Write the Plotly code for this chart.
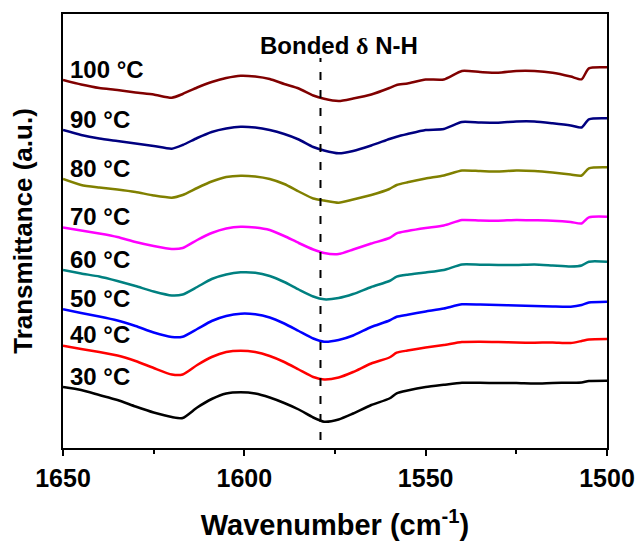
import plotly.graph_objects as go

# Shared wavenumber grid (cm^-1)
wavenumber = [1650, 1645, 1640, 1635, 1630, 1625, 1620, 1617, 1613, 1609,
              1605, 1601, 1597, 1593, 1589, 1585, 1581, 1578, 1574, 1570,
              1565, 1560, 1558, 1555, 1550, 1545, 1540, 1535, 1530, 1525,
              1520, 1515, 1510, 1507, 1505, 1500]

# Stacked transmittance spectra (a.u., offset for clarity)
t30 = [61, 58, 53, 48, 41.5, 35.5, 31, 30, 40.5, 49, 54.5, 55.7, 54.5, 50.5, 45,
       38.5, 30.5, 26.3, 28.5, 34.5, 43, 49.5, 54.7, 57.5, 61, 63.2, 65.2, 65.2,
       65, 65, 64.5, 65, 65.3, 65.5, 67, 67.3]
t40 = [102.3, 99, 96, 92.5, 87, 80, 73.5, 73.5, 83, 91, 96, 97.3, 96, 92, 86,
       78.5, 71, 68.5, 70.5, 76, 84.5, 90.5, 95.3, 97.5, 100.5, 103, 106, 106.3,
       106, 105.5, 105.3, 105.5, 105, 107, 108.5, 109]
t50 = [138.7, 135, 131.5, 127.5, 122, 115.5, 111, 111.3, 119, 127, 132, 134.3,
       133.7, 130.5, 124.5, 117, 109.5, 106.3, 108, 112.5, 121, 127.5, 131.3,
       133.3, 136.5, 139.5, 143.7, 143.5, 143, 142.5, 142, 141.5, 141.3, 143,
       145.5, 146.3]
t60 = [178, 174.5, 171.5, 167, 162, 156.5, 152.5, 153.5, 161, 169, 173.5, 175.7,
       175.3, 172, 166, 158.5, 151.5, 148.7, 150, 154, 161, 167, 171.3, 173.3,
       175.5, 178, 183.5, 183.3, 183, 183, 183.5, 182.5, 181.5, 182.5, 186.3,
       186.3]
t70 = [220.5, 217.5, 214.5, 211, 206, 202, 199, 200, 208, 215, 219.5, 221.3,
       220.5, 218, 212, 205, 198.5, 195, 194, 198.5, 204.5, 210, 214.7, 217, 220,
       222.5, 228, 227.5, 227.3, 228, 227.7, 227.3, 226, 224.5, 230.7, 231.3]
t80 = [269, 263, 260.5, 258.5, 256, 252.5, 250.3, 253, 260, 266.5, 271, 272.3,
       271.5, 269, 264, 256.5, 249.5, 247.5, 245.3, 248.5, 253, 259, 263, 265.7,
       269.5, 272.5, 277.5, 277, 276.5, 277.5, 277, 275.5, 273.5, 272.5, 279.7,
       280.7]
t90 = [318, 313, 309.5, 307, 304.5, 302, 299.3, 303, 310, 316, 319.5, 321.3,
       320.5, 318, 314, 308.5, 301, 297.5, 294.7, 297, 302.5, 309, 311.3, 314,
       318, 319, 326, 325.5, 325.3, 326.5, 326.5, 324.7, 322.5, 320.5, 328.7,
       329.7]
t100 = [368, 363.5, 360, 358, 355.5, 353.5, 350.3, 354, 360.5, 366, 370, 372.3,
        371.5, 369, 364, 359.5, 352.5, 349.2, 347, 349.5, 353.5, 360, 363, 364.5,
        368.5, 368.5, 377, 376, 375.3, 377, 377, 375.3, 371.5, 368.7, 379.7,
        380.7]

temperatures = ["30 °C", "40 °C", "50 °C", "60 °C", "70 °C", "80 °C", "90 °C", "100 °C"]
spectra = [t30, t40, t50, t60, t70, t80, t90, t100]
colors = ["#000000", "#ff0000", "#0000ff", "#008080",
          "#ff00ff", "#808000", "#000080", "#800000"]

bonded_nh = 1579  # position of the bonded N-H bending band

FONT = "Liberation Sans, Arial, sans-serif"

fig = go.Figure()
for name, y, c in zip(temperatures, spectra, colors):
    fig.add_trace(go.Scatter(
        x=wavenumber, y=y, mode="lines", name=name,
        line=dict(color=c, width=2.5, shape="spline", smoothing=0.6),
        showlegend=False,
    ))
    fig.add_annotation(
        x=1648.6, y=y[0] + 11, xref="x", yref="y",
        text=name, showarrow=False, xanchor="left", yanchor="middle",
        font=dict(family=FONT, size=24, color="black", weight="bold"),
    )

fig.add_shape(
    type="line", xref="x", yref="y",
    x0=bonded_nh, x1=bonded_nh, y0=8, y1=390,
    line=dict(color="black", width=2, dash="8px,10px"),
)
fig.add_annotation(
    x=1574, y=403, xref="x", yref="y", showarrow=False,
    xanchor="center", yanchor="middle",
    text="Bonded <span style=\"font-family:'Liberation Serif'\">δ</span> N-H",
    font=dict(family=FONT, size=24, color="black", weight="bold"),
)

fig.update_layout(
    width=643, height=545,
    margin=dict(l=63, r=36, t=14, b=97),
    plot_bgcolor="white", paper_bgcolor="white",
    font=dict(family=FONT, color="black"),
)
fig.update_xaxes(
    range=[1650, 1500], tickvals=[1650, 1600, 1550, 1500],
    automargin=False,
    ticks="outside", ticklen=6, tickwidth=2, tickcolor="black",
    ticklabelstandoff=1,
    minor=dict(tickvals=[1625, 1575, 1525], ticks="outside", ticklen=4,
               tickwidth=2, tickcolor="black", showgrid=False),
    showline=True, linecolor="black", linewidth=2, mirror=True,
    showgrid=False, zeroline=False,
    tickfont=dict(family=FONT, size=25, color="black", weight="bold"),
    title=dict(text="Wavenumber (cm<sup>-1</sup>)", standoff=24,
               font=dict(family=FONT, size=29, color="black", weight="bold")),
)
fig.update_yaxes(
    range=[0, 434], showticklabels=False, ticks="",
    automargin=False,
    showline=True, linecolor="black", linewidth=2, mirror=True,
    showgrid=False, zeroline=False,
    title=dict(text="Transmittance (a.u.)", standoff=21,
               font=dict(family=FONT, size=26, color="black", weight="bold")),
)

fig.write_html("out.html")
